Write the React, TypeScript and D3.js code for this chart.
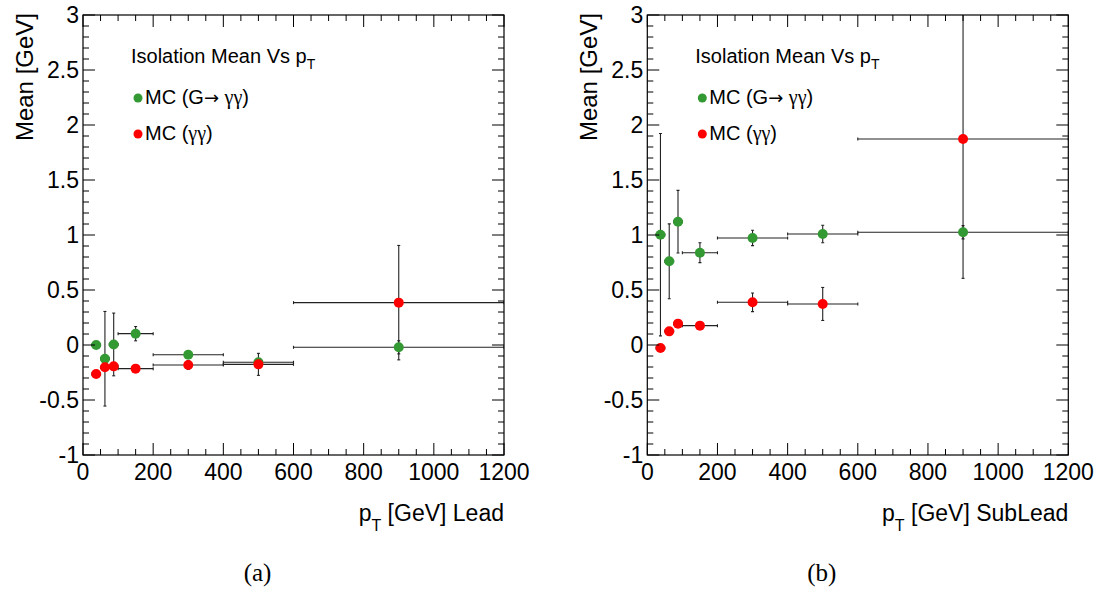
import React from "react";
import * as d3 from "d3";

// ---- data ----
const ptCenters = [37.5, 62.5, 87.5, 150, 300, 500, 900];
const binLow = [25, 50, 75, 100, 200, 400, 600];
const binHigh = [50, 75, 100, 200, 400, 600, 1200];

const leadSignalMean = [0.0, -0.125, 0.005, 0.103, -0.088, -0.157, -0.021];
const leadSignalErr = [0.02, 0.43, 0.285, 0.065, 0.03, 0.03, 0.06];
const leadBkgMean = [-0.264, -0.203, -0.194, -0.215, -0.182, -0.176, 0.385];
const leadBkgErr = [0.02, 0.03, 0.03, 0.02, 0.04, 0.1, 0.52];

const subSignalMean = [1.003, 0.761, 1.121, 0.839, 0.973, 1.009, 1.025];
const subSignalErr = [0.92, 0.34, 0.285, 0.09, 0.07, 0.08, 0.06];
const subBkgMean = [-0.027, 0.124, 0.194, 0.176, 0.388, 0.373, 1.873];
const subBkgErr = [0.02, 0.02, 0.02, 0.02, 0.085, 0.15, 1.267];

const xTicks = [0, 200, 400, 600, 800, 1000, 1200];
const yTicks = [-1, -0.5, 0, 0.5, 1, 1.5, 2, 2.5, 3];

const GREEN = "#339933";
const RED = "#ff0000";
const SANS = "'Liberation Sans', Arial, Helvetica, sans-serif";
const SERIF = "'Liberation Serif', 'DejaVu Serif', serif";

type Series = { mean: number[]; err: number[]; color: string };

function Panel({
  left, right, top, bottom, series, xTitle, caption,
}: {
  left: number; right: number; top: number; bottom: number;
  series: Series[]; xTitle: string; caption: string;
}) {
  const x = d3.scaleLinear().domain([0, 1200]).range([left, right]);
  const y = d3.scaleLinear().domain([-1, 3]).range([bottom, top]);
  const clipId = "clip" + caption.replace(/\W/g, "");
  const xMinor = d3.range(0, 1201, 50);
  const yMinor = d3.range(-1, 3.0001, 0.1);
  const isMajorX = (v: number) => Math.abs(v % 200) < 1e-6;
  const isMajorY = (v: number) => Math.abs(Math.round(v * 2) - v * 2) < 1e-6;
  const cap = 1.5;
  return (
    <g>
      <defs>
        <clipPath id={clipId}>
          <rect x={left} y={top} width={right - left} height={bottom - top} />
        </clipPath>
      </defs>
      {/* error bars */}
      <g clipPath={`url(#${clipId})`} stroke="#222" strokeWidth={1.1} fill="none">
        {series.map((s, si) =>
          ptCenters.map((c, i) => {
            const yc = y(s.mean[i]);
            const y1 = y(s.mean[i] - s.err[i]);
            const y2 = y(s.mean[i] + s.err[i]);
            const x1 = x(binLow[i]);
            const x2 = x(binHigh[i]);
            const xc = x(c);
            return (
              <g key={`${si}-${i}`}>
                <line x1={x1} x2={x2} y1={yc} y2={yc} />
                <line x1={x1} x2={x1} y1={yc - cap} y2={yc + cap} />
                <line x1={x2} x2={x2} y1={yc - cap} y2={yc + cap} />
                <line x1={xc} x2={xc} y1={y1} y2={y2} />
                <line x1={xc - cap} x2={xc + cap} y1={y1} y2={y1} />
                <line x1={xc - cap} x2={xc + cap} y1={y2} y2={y2} />
              </g>
            );
          })
        )}
      </g>
      {/* markers */}
      <g clipPath={`url(#${clipId})`}>
        {series.map((s, si) =>
          ptCenters.map((c, i) => (
            <circle key={`m${si}-${i}`} cx={x(c)} cy={y(s.mean[i])} r={5} fill={s.color} />
          ))
        )}
      </g>
      {/* frame */}
      <rect x={left} y={top} width={right - left} height={bottom - top} fill="none" stroke="#000" strokeWidth={1.2} />
      {/* ticks */}
      <g stroke="#000" strokeWidth={1}>
        {xMinor.map((v) => {
          const len = isMajorX(v) ? 12 : 6;
          return (
            <g key={`xt${v}`}>
              <line x1={x(v)} x2={x(v)} y1={bottom} y2={bottom - len} />
              <line x1={x(v)} x2={x(v)} y1={top} y2={top + len} />
            </g>
          );
        })}
        {yMinor.map((v, i) => {
          const len = isMajorY(v) ? 12 : 6;
          return (
            <g key={`yt${i}`}>
              <line x1={left} x2={left + len} y1={y(v)} y2={y(v)} />
              <line x1={right} x2={right - len} y1={y(v)} y2={y(v)} />
            </g>
          );
        })}
      </g>
      {/* tick labels */}
      <g fontFamily={SANS} fontSize={23} fill="#000">
        {xTicks.map((v) => (
          <text key={`xl${v}`} x={x(v)} y={bottom + 25} textAnchor="middle">{v}</text>
        ))}
        {yTicks.map((v) => (
          <text key={`yl${v}`} x={left - 4} y={y(v) + 8} textAnchor="end">{String(v)}</text>
        ))}
      </g>
      {/* axis titles */}
      <text
        fontFamily={SANS} fontSize={24} textAnchor="end"
        transform={`translate(${left - 50},${top - 2}) rotate(-90)`}
      >Mean [GeV]</text>
      <text fontFamily={SANS} fontSize={23} x={right} y={bottom + 66} textAnchor="end">
        <tspan>p</tspan>
        <tspan fontSize={16} dy={10}>T</tspan>
        <tspan dy={-10}> [GeV] {xTitle}</tspan>
      </text>
      {/* legend */}
      <g fontFamily={SANS} fontSize={20}>
        <text x={left + 48} y={top + 48}>
          <tspan>Isolation Mean Vs p</tspan>
          <tspan fontSize={14} dy={6}>T</tspan>
        </text>
        <circle cx={left + 55} cy={top + 83} r={4.5} fill={GREEN} />
        <text x={left + 62} y={top + 89}>
          <tspan>MC (G</tspan>
          <tspan fontFamily="'DejaVu Sans', sans-serif" fontSize={18}>→</tspan>
          <tspan> </tspan>
          <tspan fontFamily={SERIF}>γγ</tspan>
          <tspan>)</tspan>
        </text>
        <circle cx={left + 55} cy={top + 119} r={4.5} fill={RED} />
        <text x={left + 62} y={top + 125}>
          <tspan>MC (</tspan>
          <tspan fontFamily={SERIF}>γγ</tspan>
          <tspan>)</tspan>
        </text>
      </g>
      {/* caption */}
      <text
        x={(left + right) / 2 - 36} y={581} textAnchor="middle"
        fontFamily={SERIF} fontSize={25}
      >{caption}</text>
    </g>
  );
}

export default function App() {
  return (
    <svg
      width={1111} height={593}
      style={{ position: "absolute", left: 0, top: 0, background: "#fff" }}
    >
      <rect width={1111} height={593} fill="#fff" />
      <Panel
        left={83} right={504} top={15} bottom={455}
        series={[
          { mean: leadSignalMean, err: leadSignalErr, color: GREEN },
          { mean: leadBkgMean, err: leadBkgErr, color: RED },
        ]}
        xTitle="Lead" caption="(a)"
      />
      <Panel
        left={647.3} right={1068.3} top={15} bottom={455}
        series={[
          { mean: subSignalMean, err: subSignalErr, color: GREEN },
          { mean: subBkgMean, err: subBkgErr, color: RED },
        ]}
        xTitle="SubLead" caption="(b)"
      />
    </svg>
  );
}
